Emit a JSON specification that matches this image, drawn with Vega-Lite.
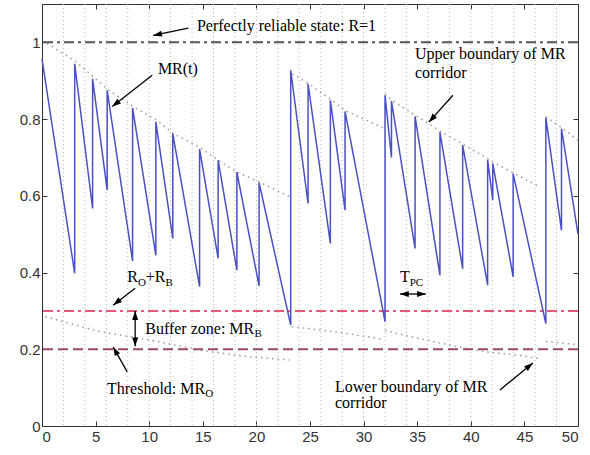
{
  "$schema": "https://vega.github.io/schema/vega-lite/v6.json",
  "width": 536,
  "height": 422,
  "autosize": {"type": "none"},
  "padding": {"left": 42, "top": 4, "right": 12, "bottom": 29},
  "background": "white",
  "config": {
    "view": {"stroke": "#333", "strokeWidth": 1},
    "axis": {"domain": false, "grid": false, "tickColor": "#333", "tickSize": -5, "labelFont": "Liberation Sans", "labelFontSize": 15, "labelColor": "#333", "title": null}
  },
  "resolve": {"axis": {"x": "independent", "y": "independent"}},
  "datasets": {
    "grid": [{"t":2},{"t":4},{"t":6},{"t":8},{"t":10},{"t":12},{"t":14},{"t":16},{"t":18},{"t":20},{"t":22},{"t":24},{"t":26},{"t":28},{"t":30},{"t":32},{"t":34},{"t":36},{"t":38},{"t":40},{"t":42},{"t":44},{"t":46},{"t":48}],
    "refs": [{"v":1,"k":"perfect"},{"v":0.3,"k":"buffer"},{"v":0.2,"k":"threshold"}],
    "bounds": [
      {"seg":"U1","t":0.47,"v":0.997},{"seg":"U1","t":3.1,"v":0.951},{"seg":"U1","t":4.8,"v":0.91},{"seg":"U1","t":6.05,"v":0.879},{"seg":"U1","t":8.54,"v":0.832},{"seg":"U1","t":10.72,"v":0.797},{"seg":"U1","t":12.26,"v":0.762},{"seg":"U1","t":14.69,"v":0.727},{"seg":"U1","t":16.43,"v":0.693},{"seg":"U1","t":18.17,"v":0.662},{"seg":"U1","t":20.28,"v":0.636},{"seg":"U1","t":23.14,"v":0.597},
      {"seg":"U2","t":23.35,"v":0.918},{"seg":"U2","t":24.85,"v":0.893},{"seg":"U2","t":26.9,"v":0.852},{"seg":"U2","t":28.3,"v":0.822},{"seg":"U2","t":32.0,"v":0.775},
      {"seg":"U3","t":32.0,"v":0.865},{"seg":"U3","t":32.6,"v":0.85},{"seg":"U3","t":34.8,"v":0.81},{"seg":"U3","t":36.1,"v":0.788},{"seg":"U3","t":37.12,"v":0.769},{"seg":"U3","t":39.24,"v":0.735},{"seg":"U3","t":41.57,"v":0.697},{"seg":"U3","t":42.05,"v":0.688},{"seg":"U3","t":43.95,"v":0.66},{"seg":"U3","t":46.5,"v":0.622},
      {"seg":"U4","t":47.0,"v":0.806},{"seg":"U4","t":48.46,"v":0.778},{"seg":"U4","t":50,"v":0.745},
      {"seg":"L1","t":0.3,"v":0.285},{"seg":"L1","t":5.4,"v":0.246},{"seg":"L1","t":10.1,"v":0.224},{"seg":"L1","t":14.75,"v":0.198},{"seg":"L1","t":19.4,"v":0.18},{"seg":"L1","t":23.1,"v":0.172},
      {"seg":"L2","t":23.3,"v":0.259},{"seg":"L2","t":27.2,"v":0.246},{"seg":"L2","t":30.3,"v":0.233},{"seg":"L2","t":31.9,"v":0.225},
      {"seg":"L3","t":32.0,"v":0.25},{"seg":"L3","t":33.1,"v":0.241},{"seg":"L3","t":35.9,"v":0.224},{"seg":"L3","t":38.7,"v":0.207},{"seg":"L3","t":41.5,"v":0.193},{"seg":"L3","t":44.3,"v":0.185},{"seg":"L3","t":46.6,"v":0.175},
      {"seg":"L4","t":47.0,"v":0.22},{"seg":"L4","t":50,"v":0.212}
    ],
    "mr": [
      {"t":0,"v":0.957},{"t":3.05,"v":0.398},{"t":3.05,"v":0.944},{"t":4.72,"v":0.567},{"t":4.72,"v":0.905},{"t":6.08,"v":0.615},{"t":6.08,"v":0.875},{"t":8.45,"v":0.43},{"t":8.45,"v":0.829},{"t":10.62,"v":0.445},{"t":10.62,"v":0.793},{"t":12.2,"v":0.489},{"t":12.2,"v":0.762},{"t":14.7,"v":0.363},{"t":14.7,"v":0.722},{"t":16.43,"v":0.437},{"t":16.43,"v":0.693},{"t":18.18,"v":0.406},{"t":18.18,"v":0.662},{"t":20.25,"v":0.365},{"t":20.25,"v":0.634},{"t":23.2,"v":0.263},{"t":23.2,"v":0.927},{"t":24.82,"v":0.58},{"t":24.82,"v":0.892},{"t":26.9,"v":0.476},{"t":26.9,"v":0.849},{"t":28.27,"v":0.5625},{"t":28.27,"v":0.82},{"t":32.0,"v":0.272},{"t":32.0,"v":0.862},{"t":32.6,"v":0.70},{"t":32.6,"v":0.847},{"t":34.8,"v":0.463},{"t":34.8,"v":0.807},{"t":37.12,"v":0.393},{"t":37.12,"v":0.766},{"t":39.24,"v":0.41},{"t":39.24,"v":0.732},{"t":41.57,"v":0.367},{"t":41.57,"v":0.694},{"t":42.05,"v":0.589},{"t":42.05,"v":0.684},{"t":43.95,"v":0.389},{"t":43.95,"v":0.658},{"t":47.0,"v":0.267},{"t":47.0,"v":0.804},{"t":48.46,"v":0.51},{"t":48.46,"v":0.775},{"t":50,"v":0.50}
    ],
    "arrows": [
      {"id":"perfect","t":13.65,"v":1.037,"t2":10.37,"v2":1.018},
      {"id":"mrt","t":10.28,"v":0.914,"t2":6.55,"v2":0.833},
      {"id":"upper","t":38.33,"v":0.862,"t2":36.09,"v2":0.792},
      {"id":"rorb","t":8.69,"v":0.359,"t2":6.64,"v2":0.315},
      {"id":"thr","t":7.95,"v":0.141,"t2":6.64,"v2":0.206},
      {"id":"lower","t":42.71,"v":0.094,"t2":45.79,"v2":0.164},
      {"id":"buf","t":8.69,"v":0.2995,"t2":8.69,"v2":0.208},
      {"id":"tpc","t":33.39,"v":0.344,"t2":35.81,"v2":0.344}
    ],
    "heads": [
      {"id":"perfect","t":10.37,"v":1.018},
      {"id":"mrt","t":6.55,"v":0.833},
      {"id":"upper","t":36.09,"v":0.792},
      {"id":"rorb","t":6.64,"v":0.315},
      {"id":"thr","t":6.64,"v":0.206},
      {"id":"lower","t":45.79,"v":0.164},
      {"id":"bufup","t":8.69,"v":0.2995},
      {"id":"bufdn","t":8.69,"v":0.208},
      {"id":"tpcl","t":33.39,"v":0.344},
      {"id":"tpcr","t":35.81,"v":0.344}
    ],
    "labels": [
      {"t":14.45,"v":1.029,"label":"Perfectly reliable state: R=1"},
      {"t":10.81,"v":0.918,"label":"MR(t)"},
      {"t":34.79,"v":0.957,"label":"Upper boundary of MR"},
      {"t":34.79,"v":0.906,"label":"corridor"},
      {"t":7.95,"v":0.375,"label":"R"},
      {"t":9.68,"v":0.375,"label":"+R"},
      {"t":9.63,"v":0.241,"label":"Buffer zone: MR"},
      {"t":6.06,"v":0.0846,"label":"Threshold: MR"},
      {"t":33.39,"v":0.375,"label":"T"},
      {"t":27.33,"v":0.0885,"label":"Lower boundary of MR"},
      {"t":27.33,"v":0.047,"label":"corridor"}
    ],
    "subs": [
      {"t":8.95,"v":0.366,"label":"O"},
      {"t":11.52,"v":0.366,"label":"B"},
      {"t":19.83,"v":0.232,"label":"B"},
      {"t":15.22,"v":0.0755,"label":"O"},
      {"t":34.3,"v":0.365,"label":"PC"}
    ]
  },
  "layer": [
    {
      "data": {"name": "grid"},
      "mark": {"type": "rule", "stroke": "#b5b5b5", "strokeWidth": 1, "strokeDash": [1, 3]},
      "encoding": {
        "x": {"field": "t", "type": "quantitative", "scale": {"domain": [0, 50], "nice": false},
          "axis": {"orient": "bottom", "values": [0,5,10,15,20,25,30,35,40,45,50], "format": "d", "labelPadding": 8}}
      }
    },
    {
      "data": {"name": "bounds"},
      "mark": {"type": "line", "stroke": "#9a9a9a", "strokeWidth": 1.5, "strokeDash": [1.5, 4]},
      "encoding": {
        "x": {"field": "t", "type": "quantitative", "scale": {"domain": [0, 50], "nice": false}, "axis": null},
        "y": {"field": "v", "type": "quantitative", "scale": {"domain": [0, 1.1], "nice": false}, "axis": null},
        "detail": {"field": "seg", "type": "nominal"},
        "order": {"value": null}
      }
    },
    {
      "data": {"name": "refs"},
      "mark": {"type": "rule", "strokeWidth": 2},
      "encoding": {
        "y": {"field": "v", "type": "quantitative", "scale": {"domain": [0, 1.1], "nice": false},
          "axis": {"orient": "left", "values": [0,0.2,0.4,0.6,0.8,1], "format": "~g", "labelPadding": 7}},
        "color": {"field": "k", "type": "nominal", "scale": {"domain": ["perfect","buffer","threshold"], "range": ["#555555","#e4587a","#9a4868"]}, "legend": null},
        "strokeDash": {"field": "k", "type": "nominal", "scale": {"domain": ["perfect","buffer","threshold"], "range": [[10,4,3,4],[10,4,3,4],[10,5]]}, "legend": null}
      }
    },
    {
      "data": {"name": "mr"},
      "mark": {"type": "line", "stroke": "#4b50c4", "strokeWidth": 1.5},
      "encoding": {
        "x": {"field": "t", "type": "quantitative", "scale": {"domain": [0, 50], "nice": false},
          "axis": {"orient": "top", "values": [0,5,10,15,20,25,30,35,40,45,50], "labels": false}},
        "y": {"field": "v", "type": "quantitative", "scale": {"domain": [0, 1.1], "nice": false},
          "axis": {"orient": "right", "values": [0,0.2,0.4,0.6,0.8,1], "labels": false}},
        "order": {"value": null}
      }
    },
    {
      "data": {"name": "arrows"},
      "mark": {"type": "rule", "stroke": "black", "strokeWidth": 1.3},
      "encoding": {
        "x": {"field": "t", "type": "quantitative", "scale": {"domain": [0, 50], "nice": false}, "axis": null},
        "y": {"field": "v", "type": "quantitative", "scale": {"domain": [0, 1.1], "nice": false}, "axis": null},
        "x2": {"field": "t2"},
        "y2": {"field": "v2"}
      }
    },
    {
      "data": {"name": "heads"},
      "mark": {"type": "point", "shape": "M0,0L-0.75,2.2L0.75,2.2Z", "filled": true, "color": "black", "opacity": 1, "size": 64},
      "encoding": {
        "x": {"field": "t", "type": "quantitative", "scale": {"domain": [0, 50], "nice": false}, "axis": null},
        "y": {"field": "v", "type": "quantitative", "scale": {"domain": [0, 1.1], "nice": false}, "axis": null},
        "angle": {"field": "id", "type": "nominal", "scale": {"type": "ordinal", "domain": ["perfect","mrt","upper","rorb","thr","lower","bufup","bufdn","tpcl","tpcr"], "range": [258,232,222,232,331,51,0,180,270,90]}, "legend": null}
      }
    },
    {
      "data": {"name": "labels"},
      "mark": {"type": "text", "font": "Liberation Serif", "fontSize": 16, "align": "left", "baseline": "alphabetic", "color": "black"},
      "encoding": {
        "x": {"field": "t", "type": "quantitative", "scale": {"domain": [0, 50], "nice": false}, "axis": null},
        "y": {"field": "v", "type": "quantitative", "scale": {"domain": [0, 1.1], "nice": false}, "axis": null},
        "text": {"field": "label"}
      }
    },
    {
      "data": {"name": "subs"},
      "mark": {"type": "text", "font": "Liberation Serif", "fontSize": 11, "align": "left", "baseline": "alphabetic", "color": "black"},
      "encoding": {
        "x": {"field": "t", "type": "quantitative", "scale": {"domain": [0, 50], "nice": false}, "axis": null},
        "y": {"field": "v", "type": "quantitative", "scale": {"domain": [0, 1.1], "nice": false}, "axis": null},
        "text": {"field": "label"}
      }
    }
  ]
}
